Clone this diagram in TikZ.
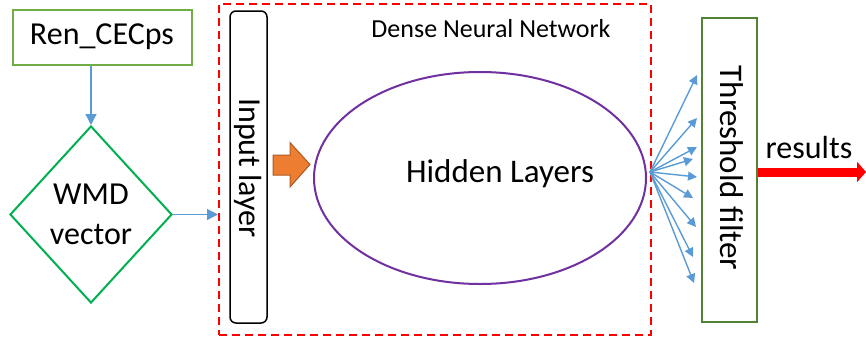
\documentclass[tikz,border=0pt]{standalone}
\usepackage{fontspec}
\setmainfont{Carlito}
\usetikzlibrary{arrows.meta,shapes.geometric}

\definecolor{leafgreen}{HTML}{70AD47}
\definecolor{brightgreen}{HTML}{00B050}
\definecolor{darkgreen}{HTML}{548235}
\definecolor{flowblue}{HTML}{5B9BD5}
\definecolor{layerpurple}{HTML}{7030A0}
\definecolor{blockorange}{HTML}{ED7D31}
\definecolor{blockedge}{HTML}{AE5A21}

\tikzset{
  bigtext/.style={font=\fontsize{32}{40}\selectfont},
  boxline/.style={draw, line width=2pt, inner sep=0pt},
  flow/.style={draw=flowblue, line width=1.4pt, -{Triangle[length=11pt,width=11pt]}},
  fanarrow/.style={draw=flowblue, line width=1.4pt, -{Triangle[length=9pt,width=9pt]}},
  outarrow/.style={draw=red, line width=9pt, -{Triangle[length=9pt,width=20pt]}},
}

\begin{document}
\begin{tikzpicture}[x=1pt,y=-1pt]
\useasboundingbox (0,0) rectangle (866,340);

% source data box
\node[boxline, draw=leafgreen, minimum width=179pt, minimum height=55pt, bigtext]
  (ren) at (102,37) {Ren\_CECps};

% diamond holding the document vector
\node[boxline, draw=brightgreen, shape=diamond, minimum width=162pt, minimum height=177pt]
  (wmd) at (91,214.5) {};
\node[bigtext, align=center] (wmdtext) at (91,214) {WMD\\vector};

% dense network frame
\node[draw=red, line width=2pt, dash pattern=on 8pt off 5pt, minimum width=432pt,
  minimum height=331pt, inner sep=0pt] (dnn) at (435,169.5) {};
\node[font=\fontsize{26}{30}\selectfont] (dnntitle) at (491,29) {Dense Neural Network};

% input layer
\node[draw=black, line width=1.5pt, rounded corners=6pt, minimum width=37pt,
  minimum height=312pt, inner sep=0pt] (input) at (248.5,167) {};
\node[bigtext, rotate=-90] (inputtext) at (248,168) {Input layer};

% hidden layers
\node[draw=layerpurple, line width=2pt, shape=ellipse, minimum width=332pt,
  minimum height=212pt, inner sep=0pt] (hidden) at (480,178) {};
\node[font=\fontsize{33}{40}\selectfont] (hiddentext) at (500,174) {Hidden Layers};

% block arrow from input to hidden layers
\draw[fill=blockorange, draw=blockedge, line width=1pt, line join=miter]
  (273,155) -- (290,155) -- (290,142.5) -- (310,164.5) -- (290,187)
  -- (290,175) -- (273,175) -- cycle;

% threshold filter
\node[boxline, draw=darkgreen, minimum width=55pt, minimum height=304pt]
  (thr) at (729.5,170) {};
\node[font=\fontsize{33}{40}\selectfont, rotate=-90] (thrtext) at (732,168) {Threshold filter};

% connectors
\draw[flow] (ren.south -| wmd.north) -- (wmd.north);
\draw[flow] (wmd.east) -- (wmd.east -| dnn.west);

\coordinate (fan) at (650,172);
\foreach \i/\x/\y in {1/697/75, 2/697/118, 3/697/147, 4/693/159, 5/697/177,
                      6/693/198, 7/696/227, 8/693/257, 9/694/283} {
  \coordinate (tip\i) at (\x,\y);
  \draw[fanarrow] (fan) -- (tip\i);
}

\coordinate (out) at (866,172);
\draw[outarrow] (thr.east |- fan) -- (out);
\node[bigtext, anchor=base] (results) at (809,158) {results};
\end{tikzpicture}
\end{document}
